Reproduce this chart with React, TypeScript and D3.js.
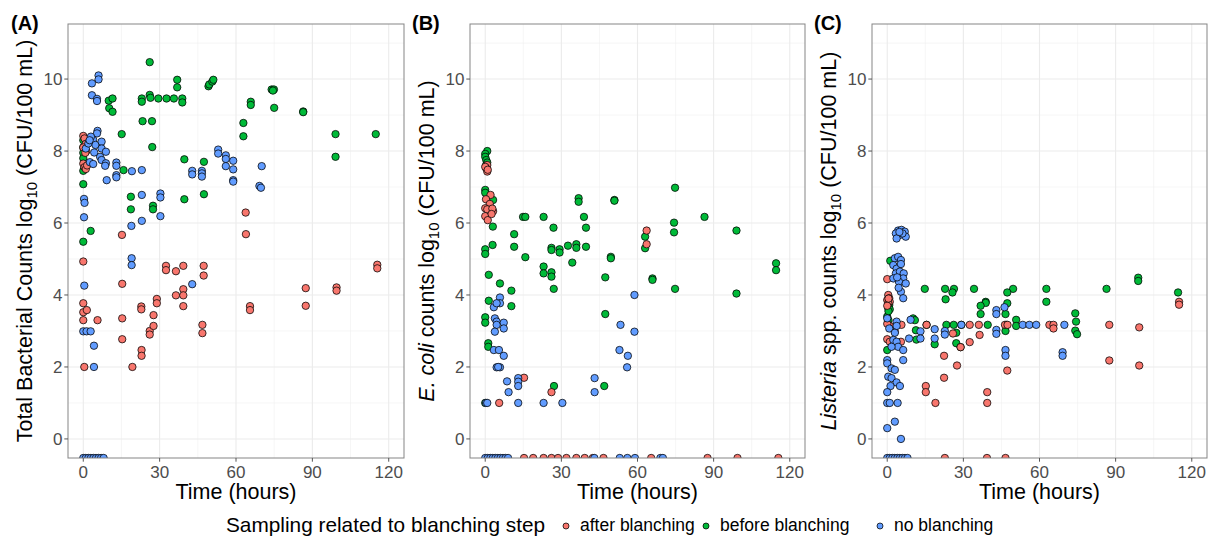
import React from 'react';
import * as d3 from 'd3';

// [time (hours), log10 count]; null = below detection, drawn on the panel floor
type Obs = [number, number | null];

const timeTicks = [0, 30, 60, 90, 120];
const timeMinor = [15, 45, 75, 105];
const countTicks = [0, 2, 4, 6, 8, 10];
const countMinor = [1, 3, 5, 7, 9, 11];
const timeDomain: [number, number] = [-6, 126];
const countDomain: [number, number] = [-0.53, 11.53];
const groupLabels = ['after blanching', 'before blanching', 'no blanching'];
const groupColors = ['#F8766D', '#00BA38', '#619CFF'];
const panelTags = ['(A)', '(B)', '(C)'];
const legendTitle = 'Sampling related to blanching step';
const xTitle = 'Time (hours)';

// ---------- (A) Total bacterial counts ----------
const tbcAfter: Obs[] = [
  [0, 8.42], [0.5, 8.35], [1, 8.2], [0, 8.1], [1.2, 8.0], [0.8, 7.95], [0, 7.65], [0.5, 7.55], [1, 7.5], [1.5, 7.6],
  [0, 4.93], [0, 3.77], [0, 3.52], [1.4, 3.58], [0, 3.3], [5.6, 3.3], [0.4, 2.0],
  [15.2, 5.67], [15.3, 4.31], [15.3, 3.35], [15.3, 2.77], [19.3, 2.0],
  [22.8, 3.68], [22.8, 3.6], [22.9, 2.47], [22.9, 2.31], [26.1, 3.0], [26.1, 2.9], [27.6, 3.44], [27.6, 3.14], [28.9, 3.89], [28.9, 3.77],
  [32.5, 4.81], [32.5, 4.69], [36.4, 4.66], [36.4, 3.99], [39.3, 4.81], [39.3, 4.16], [39.3, 3.99], [39.3, 3.69],
  [46.8, 3.17], [46.8, 2.94], [47.3, 4.81], [47.3, 4.54],
  [63.8, 6.29], [63.9, 5.69], [65.5, 3.69], [65.5, 3.58],
  [87.4, 4.19], [87.4, 3.7], [99.5, 4.21], [99.5, 4.12], [115.5, 4.84], [115.5, 4.74],
];
const tbcBefore: Obs[] = [
  [0, 8.1], [0, 7.95], [0, 7.8], [0.3, 7.5], [0, 7.45], [0.5, 7.6], [0, 8.3], [0, 7.08], [0, 5.48], [2.9, 5.78],
  [10, 9.4], [11.5, 9.46], [10.2, 9.19], [11.5, 9.09],
  [15.1, 8.47], [15.8, 7.47], [18.7, 6.73], [18.7, 6.38],
  [23, 9.46], [23, 9.37], [23.3, 8.83], [26.1, 10.47], [26.1, 9.56], [26.4, 9.48], [27, 8.83], [27.1, 8.11], [27.4, 6.48], [27.4, 6.38],
  [29.5, 9.46], [32.7, 9.46], [35.6, 9.46], [36.9, 9.98], [36.9, 9.77], [38.9, 9.46], [38.9, 9.35], [39.7, 7.77], [39.7, 6.66],
  [47.4, 7.7], [47.4, 6.8], [49.2, 9.8], [49.5, 9.85], [50.7, 9.93], [51.1, 9.98],
  [62.9, 8.78], [62.9, 8.41], [65.8, 9.37], [65.8, 9.28],
  [74, 9.71], [74.9, 9.71], [74.5, 9.68], [75, 9.2], [86.4, 9.1], [86.4, 9.08], [99.1, 8.47], [99.1, 7.84], [114.9, 8.47],
];
const tbcNone: Obs[] = [
  [3.4, 9.88], [6, 10.1], [6, 9.99], [3.4, 9.55], [5.4, 9.45], [5.4, 9.39],
  [5.6, 8.56], [5.4, 8.49], [3.9, 8.31], [4.8, 8.17], [7.2, 8.26], [7.2, 8.07], [8.9, 7.98], [6.6, 7.84], [7.2, 7.75],
  [2.6, 7.69], [3.9, 7.64], [8.9, 7.66], [8.6, 7.59], [1, 8.07], [2, 8.21], [4.3, 7.96], [3, 8.4], [2.5, 8.3],
  [13, 7.68], [13, 7.59], [13, 7.33], [13, 7.27], [9.2, 7.19],
  [19.1, 7.44], [23, 7.47], [18.9, 5.92], [23, 6.78], [23, 6.06],
  [30.3, 6.82], [30.3, 6.71], [30.3, 6.19],
  [42.8, 7.45], [42.8, 7.35], [46.6, 7.45], [46.6, 7.38], [46.6, 7.29],
  [53, 8.04], [53, 7.93], [56, 7.88], [56, 7.78], [56, 7.58], [58.9, 7.73], [58.9, 7.49], [58.9, 7.19], [58.9, 7.15],
  [69.2, 7.03], [69.8, 6.98], [70.1, 7.58],
  [0.3, 6.67], [0.5, 6.56], [0.3, 6.16],
  [19, 5.02], [19, 4.83], [0.4, 4.26], [42.8, 4.3], [0, 2.99], [1.3, 2.99], [2.9, 2.99], [4.2, 2.59], [4.2, 2.0],
  [0, null], [1, null], [2, null], [3, null], [4, null], [5, null], [6, null], [7, null], [8, null],
];

// ---------- (B) E. coli ----------
const ecoliAfter: Obs[] = [
  [0.8, 7.61], [0.4, 7.52], [0.8, 7.43], [0, 7.56], [1, 7.48],
  [2.1, 6.78], [0.3, 6.66], [1.8, 6.53], [0, 6.41], [0.8, 6.38], [3.1, 6.33], [2.8, 6.4], [0, 6.19], [1, 6.08], [2.5, 6.25],
  [63.6, 5.79], [63.6, 5.41], [15.3, 1.7], [26.1, 1.3], [5.5, 1.0],
  [15.3, null], [18.9, null], [23, null], [26.1, null], [28.7, null], [32, null], [35.9, null], [39.2, null],
  [42.4, null], [46.6, null], [65.4, null], [87.6, null], [99.4, null], [115.5, null],
];
const ecoliBefore: Obs[] = [
  [0.8, 8.0], [0, 7.92], [0, 7.84], [0.4, 7.75], [0.8, 7.68], [0.3, 7.6], [0, 6.92], [0, 6.84], [3.1, 6.64], [3, 5.9], [2.9, 5.39], [0, 5.27], [0, 5.14],
  [11.4, 5.69], [11.4, 5.34], [14.9, 6.17], [15.8, 6.17], [15.8, 5.05], [23, 6.17], [23, 4.79], [23, 4.6], [26.9, 5.87],
  [26.1, 5.31], [26.1, 5.25], [26.1, 4.63], [26.1, 4.51], [27, 4.17], [29.3, 5.27], [29.3, 5.18], [32.6, 5.37], [34.3, 4.9], [35.9, 5.41], [35.9, 5.31],
  [36.8, 6.69], [36.8, 6.59], [38.9, 6.17], [39.7, 5.87], [39.7, 5.34], [47.3, 4.49], [47.3, 3.47], [49.5, 5.06], [49.5, 5.02], [50.9, 6.64], [50.9, 6.62],
  [63, 5.62], [63, 5.3], [65.9, 4.46], [65.9, 4.42], [74.4, 6.01], [74.4, 5.74], [74.8, 6.98], [74.8, 4.17], [86.4, 6.17], [99, 5.79], [99, 4.04], [114.6, 4.88], [114.6, 4.69],
  [1.4, 4.56], [5.8, 4.32], [10.3, 4.12], [10.3, 3.69], [1.4, 3.84], [0, 3.38], [0, 3.23], [1.2, 2.66], [1.2, 2.56], [27.1, 1.47], [46.9, 1.47], [0, 1.0],
];
const ecoliNone: Obs[] = [
  [58.8, 4.0], [53.3, 3.17], [58.8, 2.98], [52.9, 2.47], [56.2, 2.31], [55.9, 1.99], [43.1, 1.69], [43.1, 1.3], [23, 1.0], [30.4, 1.0],
  [13, 1.69], [13, 1.59], [13, 1.47], [13, 1.0], [8.6, 1.6], [9.2, 1.3], [0.3, 1.0], [0.8, 1.0],
  [5.8, 3.93], [5.8, 3.77], [3.4, 3.66], [4.5, 3.77], [3.8, 3.35], [4.5, 3.26], [4.5, 3.17], [7.3, 3.23], [7.3, 3.07], [3.8, 2.98],
  [3.4, 2.47], [5.4, 2.47], [7.3, 2.31], [4.5, 1.99], [5.8, 1.99], [5.1, 2.0],
  [0, null], [1, null], [2, null], [3, null], [4, null], [5, null], [6, null], [7, null], [8, null], [9, null],
  [43, null], [53, null], [56, null], [59, null], [69, null], [70, null],
];

// ---------- (C) Listeria spp. ----------
const listAfter: Obs[] = [
  [0, 4.44], [0.4, 4.0], [0.8, 3.91], [0, 3.86], [1, 3.81], [0.4, 3.77], [0, 3.7], [1, 3.14], [0, 2.77], [1, 2.7], [3, 2.98], [5.6, 3.17], [5.4, 2.7], [0, 3.2], [0.5, 3.9],
  [15.5, 3.17], [32.5, 3.17], [36.1, 3.17], [46.4, 3.17], [47.4, 3.17], [63.9, 3.17], [65.5, 3.17], [65.5, 3.07], [87.5, 3.17], [99.3, 3.1], [115, 3.81], [115, 3.73],
  [25.9, 2.93], [36.4, 2.89], [32.5, 2.69], [28.9, 2.55], [27.5, 2.04], [22.4, 2.31], [22.4, 1.7], [15.2, 1.47], [15.2, 1.3], [19, 1.0],
  [39.4, 1.3], [39.4, 1.0], [47.3, 1.9], [87.5, 2.18], [99.3, 2.04],
  [22.7, null], [39.3, null], [46.6, null],
];
const listBefore: Obs[] = [
  [1.2, 4.95], [14.8, 4.17], [22.8, 4.17], [26.3, 4.17], [25.7, 4.07], [34.2, 4.17], [49.6, 4.17], [62.7, 4.17], [86.4, 4.17], [98.9, 4.48], [98.9, 4.39], [114.6, 4.07],
  [23, 3.88], [47.3, 4.07], [47.3, 3.77], [62.7, 3.81], [38.8, 3.81], [38.8, 3.78], [36.8, 3.7], [36.8, 3.47],
  [46.6, 3.47], [74.1, 3.49], [74.4, 3.26], [74.1, 3.01], [74.8, 2.91], [50.8, 3.31], [50.8, 3.14],
  [15.5, 3.17], [23.3, 3.17], [26.2, 3.17], [29.2, 3.17], [39.6, 3.17], [46.9, 3.17],
  [46.6, 3.0], [27.2, 2.95], [27.2, 2.66], [18.7, 2.63], [28.9, 2.55], [10.2, 3.35], [10.9, 3.3], [11.3, 3.02], [11.5, 2.76],
  [0, 2.47], [0.4, 3.63], [0.8, 3.72], [0, 3.4], [0.5, 3.3], [1, 3.6], [0.5, 3.55],
];
const listNone: Obs[] = [
  [4.3, 5.79], [5.6, 5.81], [6.9, 5.76], [3.4, 5.71], [5, 5.67], [7.3, 5.62], [3.7, 5.57], [6, 5.71], [4.8, 5.75],
  [3, 5.02], [4.3, 5.06], [5.4, 4.97], [2.4, 4.83], [3.7, 4.73], [5.4, 4.86], [3.4, 4.6], [5, 4.65], [6.5, 4.6], [6.3, 4.46],
  [4.6, 4.37], [7.3, 4.32], [5.4, 4.09], [6.3, 3.91], [2.4, 4.46], [3.9, 4.49], [4.5, 4.2],
  [0, 3.35], [0.8, 3.07], [3.7, 3.26], [3.7, 3.14], [3, 2.95], [2.4, 2.75], [3.7, 2.7], [4.3, 2.56], [1.7, 2.56], [6.3, 2.47], [6.3, 2.19],
  [0, 2.19], [0, 2.1], [0.4, 1.73], [1.7, 1.96], [3, 1.92], [1.7, 1.69], [3.7, 1.57], [1.3, 1.47], [5, 1.47], [0, 1.3], [0, 1.0], [1, 1.0], [4.1, 1.0],
  [3, 0.48], [0, 0.3], [5.4, 0.0],
  [9.2, 3.31], [8.6, 2.79], [13.1, 2.99], [13.1, 2.79], [18.7, 3.05], [18.7, 2.79], [22.7, 3.0], [22.7, 2.9],
  [43, 3.58], [43, 3.47], [43, 3.03], [43, 2.92], [46.2, 3.66], [46.6, 2.47], [46.6, 2.31],
  [29.2, 3.17], [53.4, 3.17], [56, 3.17], [58.7, 3.17], [69.8, 3.17], [69.1, 2.41], [69.1, 2.31],
  [0, null], [1, null], [2, null], [3, null], [4, null], [5, null], [6, null], [7, null], [8, null],
];

const FONT = "'Liberation Sans', Arial, Helvetica, sans-serif";
const TICK_FS = 17;
const TITLE_FS = 21.5;

type PanelProps = {
  idx: number;
  left: number;
  right: number;
  top: number;
  bottom: number;
  tagX: number;
  titleX: number;
  yTitle: React.ReactNode;
  after: Obs[];
  before: Obs[];
  none: Obs[];
};

function Panel(p: PanelProps) {
  const x = d3.scaleLinear().domain(timeDomain).range([p.left, p.right]);
  const y = d3.scaleLinear().domain(countDomain).range([p.bottom, p.top]);
  const clipId = `clip-${p.idx}`;
  const yOf = (v: number | null) => (v === null ? y(countDomain[0]) : y(v));
  const layers: { data: Obs[]; color: string }[] = [
    { data: p.before, color: groupColors[1] },
    { data: p.after, color: groupColors[0] },
    { data: p.none, color: groupColors[2] },
  ];
  const cx = (p.left + p.right) / 2;
  const cy = (p.top + p.bottom) / 2;
  return (
    <g>
      <defs>
        <clipPath id={clipId}>
          <rect x={p.left} y={p.top} width={p.right - p.left} height={p.bottom - p.top} />
        </clipPath>
      </defs>
      <rect x={p.left} y={p.top} width={p.right - p.left} height={p.bottom - p.top} fill="#fff" />
      {timeMinor.map((t) => (
        <line key={'xm' + t} x1={x(t)} x2={x(t)} y1={p.top} y2={p.bottom} stroke="#F0F0F0" strokeWidth={0.6} />
      ))}
      {countMinor.map((v) => (
        <line key={'ym' + v} x1={p.left} x2={p.right} y1={y(v)} y2={y(v)} stroke="#F0F0F0" strokeWidth={0.6} />
      ))}
      {timeTicks.map((t) => (
        <line key={'xM' + t} x1={x(t)} x2={x(t)} y1={p.top} y2={p.bottom} stroke="#EBEBEB" strokeWidth={1.1} />
      ))}
      {countTicks.map((v) => (
        <line key={'yM' + v} x1={p.left} x2={p.right} y1={y(v)} y2={y(v)} stroke="#EBEBEB" strokeWidth={1.1} />
      ))}
      <g clipPath={`url(#${clipId})`}>
        {layers.map((l, li) =>
          l.data.map((d, i) => (
            <circle key={li + '-' + i} cx={x(d[0])} cy={yOf(d[1])} r={3.7} fill={l.color} stroke="#000" strokeWidth={0.75} />
          ))
        )}
      </g>
      <rect x={p.left} y={p.top} width={p.right - p.left} height={p.bottom - p.top} fill="none" stroke="#858585" strokeWidth={1} />
      {timeTicks.map((t) => (
        <g key={'xt' + t}>
          <line x1={x(t)} x2={x(t)} y1={p.bottom} y2={p.bottom + 3.7} stroke="#555" strokeWidth={1} />
          <text x={x(t)} y={477.5} textAnchor="middle" fontSize={TICK_FS} fill="#4D4D4D" fontFamily={FONT}>
            {t}
          </text>
        </g>
      ))}
      {countTicks.map((v) => (
        <g key={'yt' + v}>
          <line x1={p.left - 3.7} x2={p.left} y1={y(v)} y2={y(v)} stroke="#555" strokeWidth={1} />
          <text x={p.left - 5.5} y={y(v) + 6} textAnchor="end" fontSize={TICK_FS} fill="#4D4D4D" fontFamily={FONT}>
            {v}
          </text>
        </g>
      ))}
      <text x={cx} y={498.5} textAnchor="middle" fontSize={TITLE_FS} fill="#000" fontFamily={FONT}>
        {xTitle}
      </text>
      <text
        transform={`translate(${p.titleX},${cy}) rotate(-90)`}
        textAnchor="middle"
        fontSize={TITLE_FS}
        fill="#000"
        fontFamily={FONT}
      >
        {p.yTitle}
      </text>
      <text x={p.tagX} y={30} fontSize={20} fontWeight="bold" fill="#000" fontFamily={FONT}>
        {panelTags[p.idx]}
      </text>
    </g>
  );
}

const sub = (s: string) => (
  <>
    <tspan dy={4.5} fontSize={15}>
      {s}
    </tspan>
    <tspan dy={-4.5}> </tspan>
  </>
);

export default function App() {
  const top = 24;
  const bottom = 458;
  const panels = [
    { left: 68, right: 404, tagX: 11, after: tbcAfter, before: tbcBefore, none: tbcNone,
      yTitle: (<>Total Bacterial Counts log{sub('10')}(CFU/100 mL)</>) },
    { left: 470, right: 805, tagX: 412, after: ecoliAfter, before: ecoliBefore, none: ecoliNone,
      yTitle: (<><tspan fontStyle="italic">E. coli</tspan> counts log{sub('10')}(CFU/100 mL)</>) },
    { left: 872, right: 1207, tagX: 814, after: listAfter, before: listBefore, none: listNone,
      yTitle: (<><tspan fontStyle="italic">Listeria</tspan> spp. counts log{sub('10')}(CFU/100 mL)</>) },
  ];
  const legendKeys = [566, 706, 880];
  return (
    <svg
      width={1209}
      height={538}
      viewBox="0 0 1209 538"
      style={{ position: 'absolute', left: 0, top: 0, background: '#fff' }}
    >
      <rect x={0} y={0} width={1209} height={538} fill="#fff" />
      {panels.map((pp, i) => (
        <Panel
          key={i}
          idx={i}
          left={pp.left}
          right={pp.right}
          top={top}
          bottom={bottom}
          tagX={pp.tagX}
          titleX={pp.left - 36}
          yTitle={pp.yTitle}
          after={pp.after}
          before={pp.before}
          none={pp.none}
        />
      ))}
      <text x={226} y={532} fontSize={20.8} fill="#000" fontFamily={FONT}>
        {legendTitle}
      </text>
      {groupLabels.map((g, i) => (
        <g key={g}>
          <circle cx={legendKeys[i]} cy={526} r={3} fill={groupColors[i]} stroke="#000" strokeWidth={0.75} />
          <text x={legendKeys[i] + 14} y={531} fontSize={17.5} fill="#000" fontFamily={FONT}>
            {g}
          </text>
        </g>
      ))}
    </svg>
  );
}
